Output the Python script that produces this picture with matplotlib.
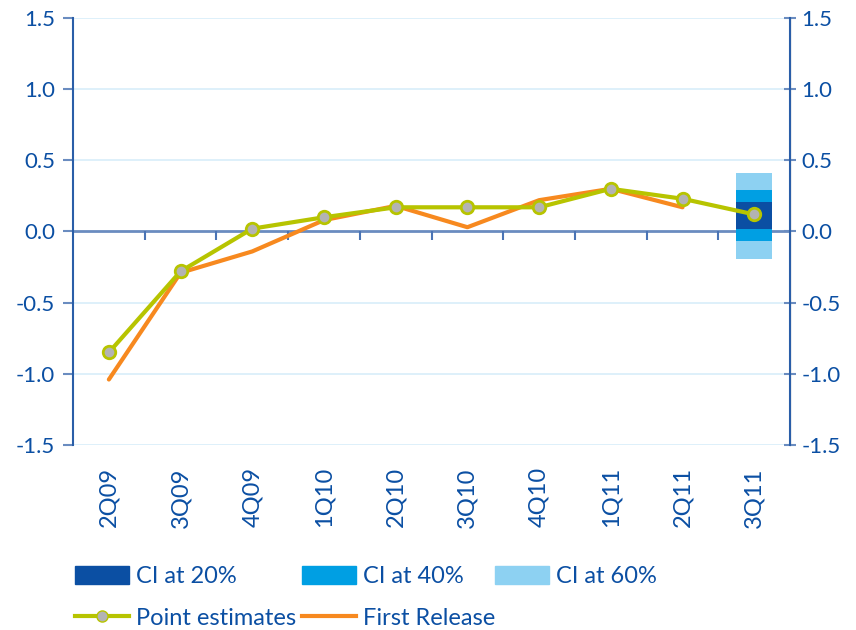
import numpy as np
import matplotlib.pyplot as plt
from matplotlib.patches import Patch
from matplotlib.lines import Line2D

quarters = ['2Q09', '3Q09', '4Q09', '1Q10', '2Q10', '3Q10', '4Q10', '1Q11', '2Q11', '3Q11']
point_est = [-0.85, -0.28, 0.02, 0.10, 0.17, 0.17, 0.17, 0.30, 0.23, 0.12]
first_release = [-1.04, -0.29, -0.14, 0.08, 0.18, 0.03, 0.22, 0.30, 0.17]
ci_60 = (-0.19, 0.41)
ci_40 = (-0.065, 0.29)
ci_20 = (0.02, 0.21)

txt = '#0b4fa3'
dark = '#0b4fa3'
mid = '#009fe3'
light = '#8dd1f2'
green = '#b7c400'
orange = '#f7891f'
spine_c = '#2a5ea8'

plt.rcParams['font.family'] = ['Lato', 'DejaVu Sans']

fig = plt.figure(figsize=(8.56, 6.30), dpi=100)
ax = fig.add_axes([0.0853, 0.2937, 0.8377, 0.6777])

x = np.arange(len(quarters)) + 0.5
ax.set_xlim(0, len(quarters))
ax.set_ylim(-1.5, 1.5)

yt = np.arange(-1.5, 1.51, 0.5)
for v in yt:
    if abs(v) > 1e-9:
        ax.axhline(v, color='#d8eef9', lw=1.2, zorder=0)
ax.axhline(0, color='#6a8cc0', lw=2, zorder=1)
ax.vlines(np.arange(1, len(quarters)), -0.06, 0, color='#4a74b5', lw=1.5, zorder=1)

# confidence bands on last quarter
xc = x[-1]
w = 0.5
for (lo, hi), c in [(ci_60, light), (ci_40, mid), (ci_20, dark)]:
    ax.bar(xc, hi - lo, bottom=lo, width=w, color=c, zorder=2)

ax.plot(x[:len(first_release)], first_release, color=orange, lw=3, zorder=3,
        solid_capstyle='round')
ax.plot(x, point_est, color=green, lw=3, marker='o', ms=9, mfc='#b3b3b3',
        mec=green, mew=2, zorder=4)

ax.set_xticks(x)
ax.set_xticklabels(quarters, rotation=90, color=txt, fontsize=17, family='Lato')
ax.tick_params(axis='x', length=0, pad=16)
ax.set_yticks(yt)
ax.set_yticklabels(['%.1f' % v for v in yt], color=txt, fontsize=16, family='Lato')
ax.tick_params(axis='y', length=7, width=1.5, color='#6a8cc0', pad=6)
for s in ['top', 'bottom']:
    ax.spines[s].set_visible(False)
ax.spines['left'].set_color(spine_c)
ax.spines['left'].set_linewidth(1.5)

ax2 = ax.twinx()
ax2.set_ylim(-1.5, 1.5)
ax2.set_yticks(yt)
ax2.set_yticklabels(['%.1f' % v for v in yt], color=txt, fontsize=16, family='Lato')
ax2.tick_params(axis='y', length=8, width=1.5, color='#6a8cc0', direction='inout', pad=4)
for s in ['top', 'bottom', 'left']:
    ax2.spines[s].set_visible(False)
ax2.spines['right'].set_color(spine_c)
ax2.spines['right'].set_linewidth(1.5)

columns = [
    [Patch(color=dark, label='CI at 20%'),
     Line2D([], [], color=green, lw=3, marker='o', ms=8, mfc='#b3b3b3', mec=green,
            label='Point estimates')],
    [Patch(color=mid, label='CI at 40%'),
     Line2D([], [], color=orange, lw=3, label='First Release')],
    [Patch(color=light, label='CI at 60%')],
]
lx = [75, 302, 495]
for hs, px in zip(columns, lx):
    leg = fig.legend(handles=hs, loc='upper left', bbox_to_anchor=(px / 856, 1 - 566 / 630),
                     frameon=False, prop={'family': 'Lato', 'size': 17},
                     handlelength=2.3, handleheight=0.8, handletextpad=0.3,
                     labelspacing=0.85, borderaxespad=0, borderpad=0)
    for t in leg.get_texts():
        t.set_color(txt)

fig.savefig('out.png', dpi=100)
